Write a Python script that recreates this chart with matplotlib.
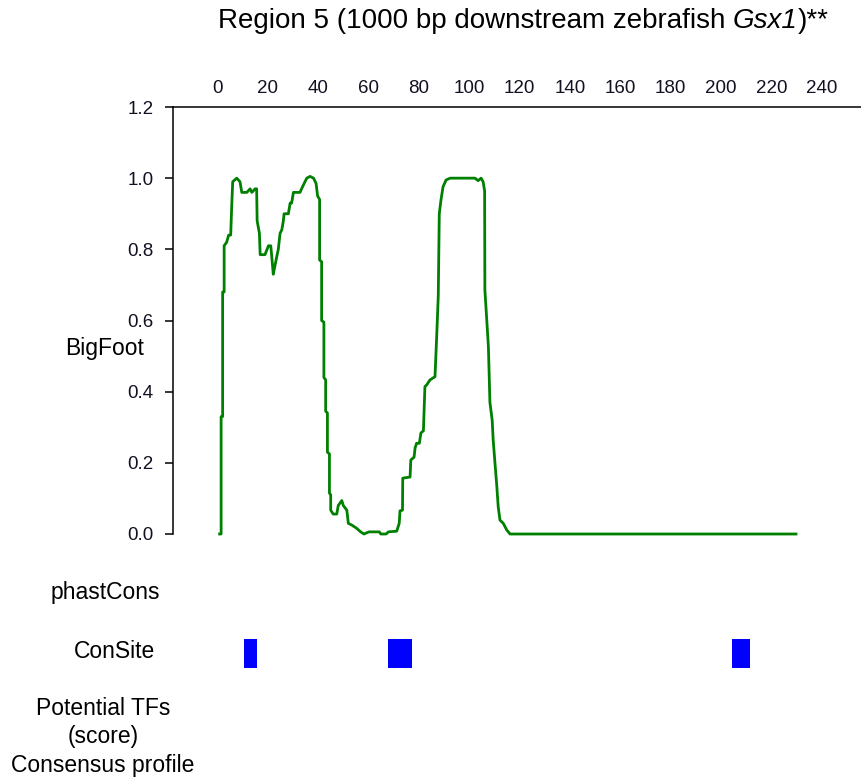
import numpy as np
import matplotlib
matplotlib.use("Agg")
import matplotlib.pyplot as plt
from matplotlib.ticker import FormatStrFormatter

plt.rcParams['font.family'] = ['Liberation Sans', 'DejaVu Sans']

# BigFoot conservation profile (position in bp, score)
bigfoot_pos = [1.0, 1.6, 1.6, 2.2, 2.2, 2.8, 2.8, 3.8, 4.6, 5.4, 5.8, 6.2, 7.8, 9.1, 9.8,
               11.8, 13.1, 13.8, 15.1, 15.7, 15.9, 16.8, 17.1, 19.0, 20.4, 21.3, 21.7, 22.3,
               23.0, 23.7, 24.3, 25.0, 25.7, 26.3, 26.6, 28.3, 29.0, 29.6, 30.3, 32.9, 34.2,
               35.6, 36.9, 38.3, 39.3, 39.9, 40.7, 40.7, 41.5, 41.5, 42.4, 42.4, 43.1, 43.1,
               43.8, 43.8, 44.6, 44.6, 45.1, 45.1, 46.1, 47.5, 48.1, 49.5, 50.1, 51.5, 52.1,
               53.5, 55.4, 57.0, 58.3, 60.3, 64.4, 65.0, 67.1, 68.0, 71.3, 72.3, 72.6, 73.6,
               73.7, 76.6, 76.9, 78.2, 78.6, 79.2, 80.3, 80.9, 81.9, 82.5, 83.2, 84.5, 86.5,
               87.2, 87.8, 88.2, 88.9, 89.7, 90.9, 92.5, 102.4, 103.6, 104.8, 105.6, 106.2,
               106.3, 107.0, 107.7, 108.3, 109.2, 109.6, 110.3, 111.0, 111.6, 112.3, 113.6,
               115.0, 116.3, 229.8]
bigfoot_score = [0.00, 0.00, 0.33, 0.33, 0.68, 0.68, 0.81, 0.82, 0.84, 0.84, 0.92, 0.99, 1.00,
                 0.99, 0.96, 0.96, 0.97, 0.96, 0.97, 0.97, 0.88, 0.845, 0.785, 0.785, 0.81,
                 0.81, 0.78, 0.73, 0.755, 0.78, 0.80, 0.845, 0.855, 0.88, 0.90, 0.90, 0.93,
                 0.93, 0.96, 0.96, 0.98, 1.00, 1.005, 1.00, 0.985, 0.95, 0.94, 0.77, 0.765,
                 0.60, 0.595, 0.44, 0.433, 0.345, 0.34, 0.23, 0.225, 0.115, 0.11, 0.067,
                 0.056, 0.056, 0.08, 0.094, 0.08, 0.067, 0.03, 0.025, 0.016, 0.006, 0.00,
                 0.006, 0.006, 0.00, 0.00, 0.006, 0.008, 0.03, 0.065, 0.067, 0.157, 0.16,
                 0.208, 0.216, 0.242, 0.255, 0.255, 0.284, 0.29, 0.414, 0.419, 0.433, 0.442,
                 0.56, 0.67, 0.90, 0.94, 0.976, 0.995, 1.00, 1.00, 0.993, 1.00, 0.99, 0.964,
                 0.686, 0.607, 0.526, 0.37, 0.32, 0.264, 0.20, 0.138, 0.076, 0.039, 0.03,
                 0.011, 0.00, 0.00]

# ConSite hits (start, end in bp)
consite_start = [10.8, 67.7, 204.2]
consite_end = [16.0, 77.3, 211.7]

xticks = list(range(0, 241, 20))
yticks = [0.0, 0.2, 0.4, 0.6, 0.8, 1.0, 1.2]

title_parts = [("Region 5 (1000 bp downstream zebrafish ", "normal"), ("Gsx1", "italic"), (")**", "normal")]
track_labels = ["BigFoot", "phastCons", "ConSite", "Potential TFs\n(score)\nConsensus profile"]

W, H = 862, 780
fig = plt.figure(figsize=(W / 100, H / 100), dpi=100)

def px(x, y):
	return x / W, 1 - y / H

# main BigFoot panel
ax = fig.add_axes([173 / W, 1 - 534 / H, (W - 173) / W, (534 - 107) / H])
ax.plot(bigfoot_pos, bigfoot_score, color="#008000", lw=2.0, clip_on=False)
ax.set_xlim(-17.5, 256)
ax.set_ylim(0, 1.2)
ax.spines["right"].set_visible(False)
ax.spines["bottom"].set_visible(False)
for s in ("left", "top"):
	ax.spines[s].set_linewidth(1.1)
ax.xaxis.tick_top()
ax.set_xticks(xticks)
ax.set_yticks(yticks)
ax.yaxis.set_major_formatter(FormatStrFormatter("%.1f"))
ax.tick_params(axis="x", length=0, pad=7, labelsize=13.5, labelcolor="#111122")
ax.tick_params(axis="y", length=6, width=1.1, pad=8, labelsize=13.5, labelcolor="#111122")

# ConSite track
ax2 = fig.add_axes([173 / W, 1 - 668 / H, (W - 173) / W, (668 - 639) / H])
ax2.bar(consite_start, 1, width=np.array(consite_end) - np.array(consite_start), align="edge", color="#0000FF")
ax2.set_xlim(-17.5, 256)
ax2.set_ylim(0, 1)
ax2.axis("off")

# title with italic gene name, laid out piece by piece
renderer = fig.canvas.get_renderer()
pieces = [fig.text(0, 0, t, fontsize=20, style=st, va="baseline") for t, st in title_parts]
widths = [p.get_window_extent(renderer).width for p in pieces]
x0 = 523 - sum(widths) / 2
for p, w in zip(pieces, widths):
	p.set_position(px(x0, 28))
	x0 += w

fig.text(*px(105, 349), track_labels[0], ha="center", va="center", fontsize=16.5)
fig.text(*px(105, 593), track_labels[1], ha="center", va="center", fontsize=16.5)
fig.text(*px(115, 652), track_labels[2], ha="center", va="center", fontsize=16.5)
fig.text(*px(103, 737), track_labels[3], ha="center", va="center", fontsize=16.5, linespacing=1.33)

fig.savefig("out.png", dpi=100)
